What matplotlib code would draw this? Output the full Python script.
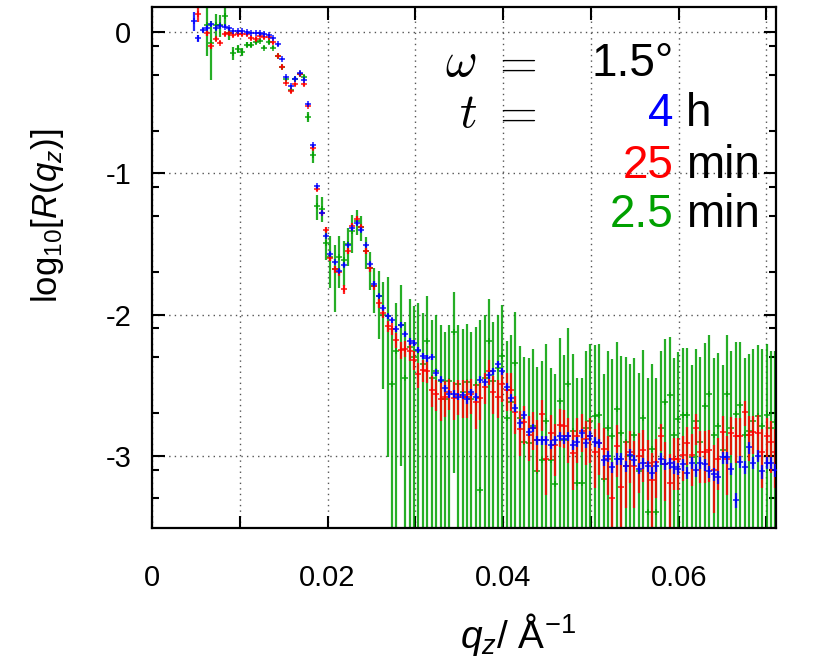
import numpy as np
import matplotlib
matplotlib.use("Agg")
import matplotlib.pyplot as plt

plt.rcParams['font.family'] = ['Liberation Sans', 'DejaVu Sans']
plt.rcParams['mathtext.fontset'] = 'custom'
plt.rcParams['mathtext.rm'] = 'Liberation Sans'
plt.rcParams['mathtext.it'] = 'Liberation Sans:italic'

# q_z grid (1/A), shared by the three measurements
q = [0.00476, 0.00526, 0.00577, 0.00627, 0.00677, 0.00727, 0.00777, 0.00827, 0.00878, 0.00928,
     0.00978, 0.01028, 0.01078, 0.01129, 0.01179, 0.01229, 0.01279, 0.01329, 0.01380, 0.01430,
     0.01480, 0.01530, 0.01580, 0.01631, 0.01681, 0.01731, 0.01781, 0.01831, 0.01882, 0.01932,
     0.01982, 0.02032, 0.02082, 0.02133, 0.02183, 0.02233, 0.02283, 0.02333, 0.02384, 0.02434,
     0.02484, 0.02534, 0.02584, 0.02635, 0.02685, 0.02735, 0.02785, 0.02835, 0.02886, 0.02936,
     0.02986, 0.03036, 0.03086, 0.03137, 0.03187, 0.03237, 0.03287, 0.03337, 0.03388, 0.03438,
     0.03488, 0.03538, 0.03588, 0.03639, 0.03689, 0.03739, 0.03789, 0.03839, 0.03890, 0.03940,
     0.03990, 0.04040, 0.04090, 0.04141, 0.04191, 0.04241, 0.04291, 0.04341, 0.04392, 0.04442,
     0.04492, 0.04542, 0.04592, 0.04643, 0.04693, 0.04743, 0.04793, 0.04843, 0.04894, 0.04944,
     0.04994, 0.05044, 0.05094, 0.05145, 0.05195, 0.05245, 0.05295, 0.05345, 0.05396, 0.05446,
     0.05496, 0.05546, 0.05596, 0.05647, 0.05697, 0.05747, 0.05797, 0.05847, 0.05898, 0.05948,
     0.05998, 0.06048, 0.06098, 0.06149, 0.06199, 0.06249, 0.06299, 0.06349, 0.06400, 0.06450,
     0.06500, 0.06550, 0.06600, 0.06651, 0.06701, 0.06751, 0.06801, 0.06851, 0.06902, 0.06952,
     0.07002, 0.07052, 0.07102]

# log10 R, t = 4 h
r_4h = [0.08, -0.045, 0.014, 0.03, 0.054, 0.026, 0.045, 0.038, 0.026, 0.007,
        0.007, 0.007, -0.002, -0.005, -0.008, -0.01, -0.015, -0.02, -0.042, -0.087,
        -0.19, -0.32, -0.38, -0.33, -0.29, -0.34, -0.51, -0.80, -1.09, -1.28,
        -1.44, -1.57, -1.63, -1.69, -1.65, -1.51, -1.39, -1.35, -1.40, -1.51,
        -1.64, -1.78, -1.87, -1.95, -2.01, -2.04, -2.10, -2.07, -2.14, -2.19,
        -2.20, -2.25, -2.29, -2.31, -2.30, -2.41, -2.46, -2.52, -2.56, -2.56,
        -2.58, -2.57, -2.60, -2.55, -2.58, -2.46, -2.48, -2.43, -2.40, -2.35,
        -2.40, -2.51, -2.59, -2.66, -2.77, -2.71, -2.83, -2.80, -2.89, -2.89,
        -2.89, -2.92, -2.89, -2.86, -2.88, -2.86, -2.92, -2.90, -2.84, -2.91,
        -2.86, -2.90, -2.91, -3.03, -3.00, -3.08, -3.02, -3.02, -3.07, -2.99,
        -3.03, -3.09, -3.05, -3.07, -3.12, -3.07, -3.02, -3.06, -3.05, -3.08,
        -3.09, -3.06, -3.12, -3.05, -3.10, -3.05, -3.06, -3.11, -3.13, -3.15,
        -3.01, -3.01, -3.09, -3.31, -3.04, -3.08, -2.94, -3.05, -3.00, -3.11,
        -3.05, -3.05, -3.10]
# relative error dR/R, t = 4 h
e_4h = [0.15, 0.05, 0.03, 0.03, 0.02, 0.02, 0.02, 0.02, 0.02, 0.02,
        0.02, 0.02, 0.02, 0.02, 0.02, 0.02, 0.02, 0.02, 0.02, 0.02,
        0.02, 0.02, 0.02, 0.02, 0.02, 0.02, 0.02, 0.025, 0.025, 0.025,
        0.03, 0.03, 0.03, 0.03, 0.03, 0.03, 0.03, 0.03, 0.03, 0.03,
        0.035, 0.035, 0.035, 0.04, 0.04, 0.04, 0.045, 0.045, 0.045, 0.05,
        0.05, 0.05, 0.05, 0.05, 0.05, 0.055, 0.055, 0.06, 0.06, 0.06,
        0.06, 0.06, 0.065, 0.06, 0.065, 0.06, 0.06, 0.06, 0.06, 0.06,
        0.06, 0.065, 0.07, 0.07, 0.07, 0.07, 0.07, 0.07, 0.075, 0.075,
        0.075, 0.075, 0.075, 0.075, 0.075, 0.075, 0.08, 0.08, 0.08, 0.08,
        0.08, 0.08, 0.08, 0.09, 0.09, 0.09, 0.09, 0.09, 0.09, 0.09,
        0.09, 0.09, 0.09, 0.09, 0.1, 0.09, 0.09, 0.09, 0.09, 0.1,
        0.1, 0.1, 0.1, 0.1, 0.1, 0.1, 0.1, 0.1, 0.1, 0.1,
        0.1, 0.1, 0.1, 0.12, 0.1, 0.1, 0.1, 0.1, 0.1, 0.11,
        0.1, 0.1, 0.11]

# log10 R, t = 25 min
r_25m = [np.nan, 0.13, np.nan, -0.01, -0.10, -0.05, -0.075, -0.016, -0.01, -0.02,
         -0.016, -0.016, -0.014, -0.04, -0.05, -0.025, -0.038, -0.038, -0.073, -0.17,
         -0.245, -0.36, -0.42, -0.37, -0.30, -0.37, -0.52, -0.82, -1.11, -1.28,
         -1.40, -1.60, -1.68, -1.70, -1.82, -1.55, -1.37, -1.32, -1.38, -1.55,
         -1.67, -1.80, -1.92, -1.99, -2.08, -2.10, -2.18, -2.25, -2.24, -2.26,
         -2.32, -2.42, -2.39, -2.40, -2.53, -2.56, -2.60, -2.58, -2.55, -2.59,
         -2.57, -2.58, -2.58, -2.56, -2.62, -2.59, -2.51, -2.40, -2.55, -2.58,
         -2.49, -2.53, -2.53, -2.69, -2.81, -2.76, -2.85, -2.80, -2.89, -2.70,
         -3.02, -2.84, -2.92, -2.78, -2.79, -2.86, -2.98, -2.86, -2.82, -2.88,
         -2.86, -2.97, -2.91, -2.95, -3.02, -3.30, -2.93, -3.22, -3.07, -2.97,
         -3.07, -3.00, -2.96, -3.05, -3.17, -3.04, -2.86, -3.06, -3.19, -3.02,
         -3.02, -2.99, -2.91, -2.99, -2.80, -2.97, -2.97, -2.96, -3.10, -3.02,
         -2.83, -3.02, -2.84, -2.86, -2.86, -2.69, -2.85, -2.83, -2.84, -2.97,
         -2.86, -2.90, -2.97]
e_25m = [np.nan, 0.12, np.nan, 0.04, 0.04, 0.03, 0.03, 0.03, 0.03, 0.03,
         0.03, 0.03, 0.03, 0.03, 0.03, 0.03, 0.03, 0.03, 0.02, 0.02,
         0.02, 0.02, 0.02, 0.02, 0.02, 0.02, 0.025, 0.03, 0.03, 0.035,
         0.04, 0.05, 0.06, 0.06, 0.07, 0.05, 0.04, 0.04, 0.04, 0.05,
         0.06, 0.06, 0.07, 0.08, 0.09, 0.1, 0.12, 0.14, 0.13, 0.14,
         0.15, 0.2, 0.18, 0.18, 0.25, 0.25, 0.3, 0.28, 0.25, 0.3,
         0.28, 0.3, 0.3, 0.28, 0.35, 0.3, 0.25, 0.2, 0.3, 0.3,
         0.25, 0.3, 0.3, 0.3, 0.35, 0.3, 0.35, 0.3, 0.4, 0.25,
         0.45, 0.35, 0.4, 0.3, 0.3, 0.35, 0.45, 0.35, 0.3, 0.35,
         0.35, 0.45, 0.4, 0.4, 0.45, 0.8, 0.4, 0.6, 0.5, 0.4,
         0.5, 0.45, 0.4, 0.45, 0.55, 0.45, 0.22, 0.45, 0.6, 0.4,
         0.4, 0.35, 0.3, 0.4, 0.25, 0.4, 0.4, 0.4, 0.5, 0.4,
         0.3, 0.45, 0.3, 0.35, 0.35, 0.2, 0.35, 0.3, 0.35, 0.45,
         0.35, 0.4, 0.45]

# log10 R, t = 2.5 min
r_2m = [np.nan, np.nan, np.nan, 0.05, -0.08, 0.05, 0.05, 0.11, -0.01, -0.15,
        -0.12, -0.14, -0.09, -0.09, -0.07, -0.06, -0.11, -0.07, -0.11, -0.17,
        -0.25, -0.33, -0.41, -0.33, -0.30, -0.32, -0.60, -0.87, -1.23, -1.25,
        -1.49, -1.59, -1.68, -1.59, -1.61, -1.50, -1.41, -1.34, -1.38, -1.55,
        -1.67, -1.80, -1.87, -2.00, -2.01, -2.49, -2.26, -2.07, -2.45, -2.23,
        -2.30, -2.26, -2.35, -2.19, -2.45, -2.40, -2.47, -2.60, -2.47, -2.12,
        -2.49, -2.55, -2.48, -2.60, -2.50, -3.24, -2.45, -2.19, -2.47, -2.38,
        -2.29, -2.73, -2.62, -2.34, -2.73, -2.90, -2.91, -2.79, -3.11, -3.03,
        -2.75, -3.03, -3.20, -2.61, -2.89, -2.49, -2.82, -3.19, -3.19, -2.80,
        -2.75, -2.72, -2.71, -3.16, -2.80, -2.86, -2.67, -2.84, -2.90, -3.00,
        -2.85, -3.11, -2.73, -3.40, -2.95, -3.40, -2.80, -2.62, -2.57, -2.85,
        -2.74, -2.71, -2.71, -3.01, -2.75, -2.90, -2.65, -2.56, -2.85, -2.79,
        -2.96, -2.56, -2.80, -2.70, -2.64, -2.85, -2.82, -2.75, -2.72, -2.79,
        -2.71, -2.80, -2.76]
e_2m = [np.nan, np.nan, np.nan, 0.4, 0.45, 0.2, 0.18, 0.15, 0.1, 0.1,
        0.07, 0.06, 0.04, 0.04, 0.03, 0.03, 0.03, 0.03, 0.03, 0.03,
        0.03, 0.03, 0.04, 0.03, 0.03, 0.03, 0.08, 0.12, 0.2, 0.2,
        0.25, 0.4, 0.5, 0.4, 0.35, 0.3, 0.3, 0.2, 0.2, 0.25,
        0.3, 0.35, 0.5, 0.7, 0.9, 1.5, 1.2, 0.9, 1.5, 1.2,
        1.3, 1.2, 1.3, 1.1, 1.6, 1.5, 1.5, 2.0, 1.5, 0.9,
        1.6, 1.8, 1.6, 2.0, 1.6, 15.0, 1.8, 1.0, 1.6, 1.4,
        1.3, 2.5, 2.0, 1.3, 2.2, 3.0, 3.0, 2.5, 4.5, 4.0,
        2.5, 3.5, 5.0, 1.8, 3.0, 1.5, 2.5, 4.5, 4.5, 2.5,
        2.5, 2.2, 2.2, 4.5, 2.5, 2.5, 2.0, 2.5, 3.0, 3.5,
        2.5, 4.0, 2.0, 8.0, 3.0, 8.0, 2.5, 1.8, 1.6, 2.5,
        2.0, 2.0, 2.0, 3.5, 2.2, 3.0, 1.8, 1.6, 2.5, 2.3,
        3.0, 1.6, 2.5, 2.2, 1.8, 2.5, 2.5, 2.2, 2.2, 2.5,
        2.2, 2.5, 2.2]


def log_err(r, e):
    # symmetric linear error -> asymmetric bars in log10 space
    e = np.asarray(e, dtype=float)
    up = np.log10(1 + e)
    lo = np.where(e < 1, -np.log10(np.clip(1 - e, 1e-9, None)), 10.0)
    return [lo, up]


fig = plt.figure(figsize=(8.2, 6.62), dpi=100)
ax = fig.add_axes([0.1854, 0.2024, 0.7610, 0.7870])

series = [(r_2m, e_2m, '#00a000', 1), (r_25m, e_25m, '#ff0000', 2), (r_4h, e_4h, '#0000ff', 3)]
for r, e, c, z in series:
    ax.errorbar(q, r, yerr=log_err(r, e), fmt='+', color=c, ms=5, mew=1.2,
                elinewidth=1.6, capsize=0, zorder=z, alpha=0.85)

ax.set_xlim(0, 0.0711)
ax.set_ylim(-3.51, 0.177)
ax.set_xticks([0, 0.01, 0.02, 0.03, 0.04, 0.05, 0.06, 0.07])
ax.set_xticklabels(['0', '', '0.02', '', '0.04', '', '0.06', ''])
ax.set_yticks([0, -1, -2, -3])
ax.set_yticklabels(['0', '-1', '-2', '-3'])
minor = [n + np.log10(m) for n in [0, -1, -2, -3] for m in [0.8, 0.5, 0.2]]
ax.set_yticks([v for v in minor if v > -3.51], minor=True)
ax.tick_params(which='both', direction='in', top=True, right=True, width=1.5, labelsize=21)
ax.tick_params(which='major', length=9)
ax.tick_params(which='minor', length=5)
ax.tick_params(axis='x', pad=26)
ax.tick_params(axis='y', pad=15)
ax.grid(True, which='major', color='#555555', linestyle=(0, (1, 3)), linewidth=1.0)
ax.set_axisbelow(True)
for s in ax.spines.values():
    s.set_linewidth(1.6)

ax.set_ylabel(r'$\mathrm{log}_{10}[R(q_z)]$', fontsize=25, va='center')
ax.yaxis.set_label_coords(-0.167, 0.60)
ax.set_xlabel(r'$q_z/\ \mathrm{\AA}^{-1}$', fontsize=28, va='center')
ax.xaxis.set_label_coords(0.586, -0.205)

# annotation block
fs = 33
fm = 35
ax.text(0.494, 0.891, r'$\omega$', transform=ax.transAxes, fontsize=fm,
        ha='center', va='center', math_fontfamily='cm')
ax.text(0.506, 0.794, r'$t$', transform=ax.transAxes, fontsize=fm,
        ha='center', va='center', math_fontfamily='cm')
for yy in [0.891, 0.794]:
    ax.text(0.580, yy, r'$=$', transform=ax.transAxes, fontsize=fm,
            ha='center', va='center', math_fontfamily='cm')
ax.text(0.836, 0.891, '1.5°', transform=ax.transAxes, fontsize=fs, ha='right', va='center')
rows = [('4', 'h', '#0000ff', 0.794), ('25', 'min', '#ff0000', 0.695), ('2.5', 'min', '#00a000', 0.600)]
for num, unit, c, yy in rows:
    ax.text(0.836, yy, num, transform=ax.transAxes, fontsize=fs, ha='right', va='center', color=c)
    ax.text(0.856, yy, unit, transform=ax.transAxes, fontsize=fs, ha='left', va='center')

fig.savefig('out.png', dpi=100)
